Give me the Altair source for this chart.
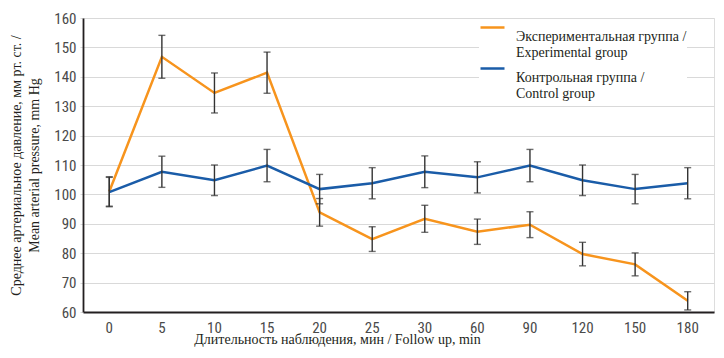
import altair as alt
import pandas as pd

times = ["0", "5", "10", "15", "20", "25", "30", "60", "90", "120", "150", "180"]
exp_mean = [101, 146.8, 134.5, 141.4, 93.9, 84.8, 91.7, 87.3, 89.7, 79.7, 76.2, 63.8]
exp_err = [5.0, 7.3, 6.8, 7.0, 4.7, 4.2, 4.6, 4.3, 4.4, 4.0, 3.9, 3.1]
ctl_mean = [100.8, 107.7, 104.8, 109.8, 101.8, 103.8, 107.7, 105.8, 109.8, 104.8, 101.8, 103.8]
ctl_err = [5.0, 5.3, 5.2, 5.5, 5.0, 5.3, 5.4, 5.3, 5.5, 5.2, 5.0, 5.3]
y_ticks = [60, 70, 80, 90, 100, 110, 120, 130, 140, 150, 160]

g_exp = "Экспериментальная группа /\nExperimental group"
g_ctl = "Контрольная группа /\nControl group"
groups = [g_exp, g_ctl]
colors = ["#F7941D", "#1A5CA8"]

rows = []
for t, m, e in zip(times, exp_mean, exp_err):
    rows.append({"t": t, "group": g_exp, "mean": m, "lo": m - e, "hi": m + e})
for t, m, e in zip(times, ctl_mean, ctl_err):
    rows.append({"t": t, "group": g_ctl, "mean": m, "lo": m - e, "hi": m + e})
df = pd.DataFrame(rows)

serif = "Liberation Serif"
narrow = "Liberation Sans Narrow, Roboto Condensed, Roboto, sans-serif"
frame = "#231f20"

x_axis = alt.Axis(
    title="Длительность наблюдения, мин / Follow up, min",
    labelAngle=0, ticks=False, domain=True, domainColor=frame, domainWidth=1.8,
    labelPadding=8, labelOverlap=False,
    labelFont=narrow, labelFontSize=15, labelColor="#4a4a4a",
    titleFont=serif, titleFontSize=14, titleFontWeight="normal",
    titleColor=frame, titlePadding=-3, titleX=254, titleAlign="center",
)
y_axis = alt.Axis(
    title=["Среднее артериальное давление, мм рт. ст. /", "Mean arterial pressure, mm Hg"],
    values=y_ticks, labelOverlap=False,
    grid=True, gridColor="#d9d9d9", gridWidth=1.2,
    ticks=True, tickSize=3, tickColor="#d9d9d9",
    domain=True, domainColor=frame, domainWidth=1.8,
    labelFont=narrow, labelFontSize=15, labelColor="#4a4a4a", labelPadding=4,
    titleFont=serif, titleFontSize=14, titleFontWeight="normal",
    titleColor=frame, titlePadding=12, titleLineHeight=18,
)
xscale = alt.Scale(domain=times, paddingInner=0, paddingOuter=0)
yscale = alt.Scale(domain=[60, 160], nice=False, zero=False)

color = alt.Color(
    "group:N", sort=groups,
    scale=alt.Scale(domain=groups, range=colors),
    legend=alt.Legend(
        title=None, orient="none", legendX=396, legendY=5,
        labelExpr="split(datum.label, '\\n')",
        labelFont=serif, labelFontSize=14, labelColor=frame,
        labelLimit=300, symbolType="M-1,-0.75H1", symbolSize=576,
        symbolStrokeWidth=2.5, rowPadding=3, labelOffset=10,
        fillColor="white",
    ),
)

line = alt.Chart(df).mark_line(strokeWidth=2.5).encode(
    x=alt.X("t:N", scale=xscale, axis=x_axis),
    y=alt.Y("mean:Q", scale=yscale, axis=y_axis),
    color=color,
)

rule = alt.Chart(df).mark_rule(color="#333333", strokeWidth=1.4).encode(
    x=alt.X("t:N", scale=xscale, axis=x_axis),
    y=alt.Y("lo:Q", scale=yscale, axis=y_axis),
    y2="hi:Q",
)
cap_lo = alt.Chart(df).mark_tick(color="#333333", thickness=1.4, size=7, orient="horizontal").encode(
    x=alt.X("t:N", scale=xscale, axis=x_axis),
    y=alt.Y("lo:Q", scale=yscale, axis=y_axis),
)
cap_hi = alt.Chart(df).mark_tick(color="#333333", thickness=1.4, size=7, orient="horizontal").encode(
    x=alt.X("t:N", scale=xscale, axis=x_axis),
    y=alt.Y("hi:Q", scale=yscale, axis=y_axis),
)

chart = alt.layer(line, rule, cap_lo, cap_hi).properties(
    width=631, height=294,
    autosize=alt.AutoSizeParams(type="none"),
    padding={"left": 75, "top": 10, "right": 2, "bottom": 38},
).configure_view(
    stroke=frame, strokeWidth=1.8
).configure(background="white")

chart.save("out.html", embed_options={"renderer": "svg", "actions": False})
